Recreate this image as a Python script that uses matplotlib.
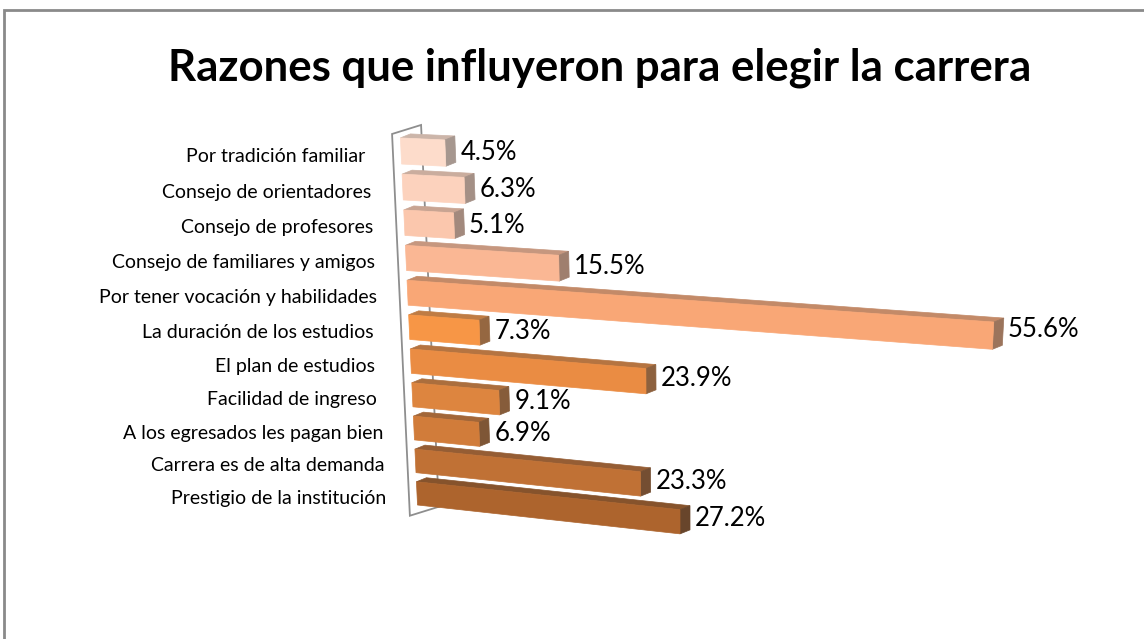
import numpy as np
import matplotlib
matplotlib.use("Agg")
import matplotlib.pyplot as plt
from matplotlib.transforms import Transform
from matplotlib.colors import to_rgb

# ---------------- data ----------------
title = "Razones que influyeron para elegir la carrera"
categories = [
    "Por tradición familiar ",
    "Consejo de orientadores",
    "Consejo de profesores",
    "Consejo de familiares y amigos",
    "Por tener vocación y habilidades",
    "La duración de los estudios ",
    "El plan de estudios ",
    "Facilidad de ingreso ",
    "A los egresados les pagan bien",
    "Carrera es de alta demanda",
    "Prestigio de la institución",
]
values = [4.5, 6.3, 5.1, 15.5, 55.6, 7.3, 23.9, 9.1, 6.9, 23.3, 27.2]
value_labels = [f"{v:.1f}%" for v in values]

front_colors = ["#FDDCCB", "#FCD2BD", "#FBC7AD", "#FAB794", "#F9A776", "#F79646",
                "#EA8C43", "#DD853F", "#D17C3A", "#C07135", "#AD642D"]

# ---------------- layout / style ----------------
W, H = 1144, 639
BAR_H = 0.72
DEPTH = np.array([10.0, -4.0])          # pixel offset of bar back plane
WALL_FRONT = np.array([-8.0, 3.0])
WALL_BACK = np.array([21.0, -6.0])
# perspective (value, row) -> pixel
PERSP_M = np.array([[9.094, 4.1, 401.0],
                    [0.22, 37.2, 151.0],
                    [-0.0017, 0.006, 1.0]])


class Perspective(Transform):
    input_dims = 2
    output_dims = 2
    is_separable = False
    has_inverse = False

    def __init__(self, m):
        super().__init__()
        self.m = np.asarray(m, float)

    def transform_non_affine(self, values):
        values = np.asarray(values, float).reshape(-1, 2)
        v, r = values[:, 0], values[:, 1]
        m = self.m
        w = m[2, 0] * v + m[2, 1] * r + m[2, 2]
        x = (m[0, 0] * v + m[0, 1] * r + m[0, 2]) / w
        y = (m[1, 0] * v + m[1, 1] * r + m[1, 2]) / w
        return np.column_stack([x, y])


def shade(c, f, gray=0.0):
    rgb = np.array(to_rgb(c))
    g = rgb.mean()
    rgb = rgb * (1 - gray) + g * gray
    return tuple(np.clip(rgb * f, 0, 1))


fig = plt.figure(figsize=(W / 100, H / 100), dpi=100)
ax = fig.add_axes([0, 0, 1, 1])
ax.set_xlim(0, W)
ax.set_ylim(H, 0)
ax.set_autoscale_on(False)
ax.axis("off")

persp = Perspective(PERSP_M)
trans = persp + ax.transData

n = len(values)
rows = np.arange(n)

# wall (floor panel at value 0)
r_top, r_bot = -0.55, n - 1 + 0.6
pt = persp.transform([[0, r_top], [0, r_bot]])
wall = np.array([pt[0] + WALL_FRONT, pt[0] + WALL_BACK, pt[1] + WALL_BACK, pt[1] + WALL_FRONT])
ax.fill(wall[:, 0], wall[:, 1], facecolor="white", edgecolor="#8E8E8E", lw=1.3, zorder=1)

# bars (front faces through the perspective transform)
bars = ax.barh(rows, values, height=BAR_H, left=0, color=front_colors,
               edgecolor=front_colors, linewidth=0.5, transform=trans)

for i, (v, r) in enumerate(zip(values, rows)):
    z = 3 + i * 0.01
    bars[i].set_zorder(z + 0.002)
    p = persp.transform([[0, r - BAR_H / 2], [v, r - BAR_H / 2], [v, r + BAR_H / 2]])
    top = np.array([p[0], p[1], p[1] + DEPTH, p[0] + DEPTH])
    end = np.array([p[1], p[2], p[2] + DEPTH, p[1] + DEPTH])
    tc = shade(front_colors[i], 0.82, 0.15)
    ec = shade(front_colors[i], 0.68, 0.3)
    ax.fill(top[:, 0], top[:, 1], facecolor=tc, edgecolor=tc, lw=0.5, zorder=z)
    ax.fill(end[:, 0], end[:, 1], facecolor=ec, edgecolor=ec, lw=0.5, zorder=z + 0.001)

    # value label
    c = persp.transform([[v, r]])[0]
    ax.text(c[0] + DEPTH[0] + 5, c[1] - 0.12 * v, value_labels[i],
            ha="left", va="center", fontsize=18.5, family="Lato", color="black", zorder=10)

    # category label
    c0 = persp.transform([[0, r]])[0]
    ax.text(c0[0] - 31, c0[1] + 5, categories[i], ha="right", va="center",
            fontsize=14, family="Lato", color="black", zorder=10)

# title
ax.text(600, 68, title, ha="center", va="center", fontsize=31.5, family="Lato",
        fontweight="bold", color="black")

# chart-area frame (cropped)
ax.plot([4, 4, W + 5], [H + 5, 10, 10], color="#8A8A8A", lw=2, zorder=0,
        solid_joinstyle="miter", clip_on=False)

fig.savefig("out.png", dpi=100)
